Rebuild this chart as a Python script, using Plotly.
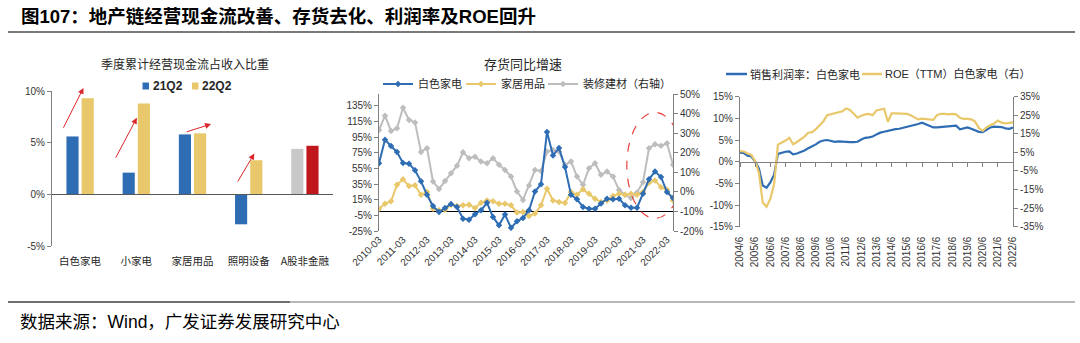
import plotly.graph_objects as go

W, H = 1080, 343
def px(x): return x / W
def py(y): return 1 - y / H

CJK = "Noto Sans CJK SC"
LAT = "Liberation Sans, Noto Sans CJK SC"
BLUE = "#2E6DB4"
YELLOW = "#E8C86A"
GREY_LINE = "#BDBDBD"
GREY_BAR = "#C8C8C8"
RED_BAR = "#C0171D"
TXT = "#333333"
AXC = "#808080"

# ---------------- Left chart: cash flow / revenue ----------------
bar_categories = ["白色家电", "小家电", "家居用品", "照明设备", "A股非金融"]
cash_21q2 = [5.6, 2.1, 5.8, -2.9, 4.4]
cash_22q2 = [9.3, 8.8, 5.9, 3.3, 4.7]
left_ticks = [-5, 0, 5, 10]
left_ticktext = ["-5%", "0%", "5%", "10%"]
# red arrows (tail x, tail y, head x, head y) in category-index / % units
arrows = [(-0.31, 6.3, 0.06, 10.3), (0.62, 3.4, 1.01, 7.4),
          (1.87, 6.0, 2.33, 6.8), (2.79, 1.1, 3.1, 3.95)]

# ---------------- Middle chart: inventory growth ----------------
quarters = [f"{y}-{m:02d}" for y in range(2010, 2023) for m in (3, 6, 9, 12)][:50]
inv_appliance = [61.7, 91.6, 83.5, 75.8, 61.8, 61.0, 52.5, 38.4, 21.3, 6.8,
                 -0.8, 4.3, 9.5, 5.7, -9.3, -10.6, -3.5, 1.5, 11.0, -7.0,
                 -17.8, -4.0, -21.0, -12.6, -8.4, 1.4, 25.4, 34.8, 101.5, 71.6,
                 81.0, 56.7, 21.4, 15.4, 5.7, 3.5, 3.5, 10.0, 16.3, 15.4,
                 16.3, 7.8, 4.8, 4.8, 22.7, 41.0, 51.0, 44.0, 24.8, 17.0]
inv_furnish = [3.5, 9.8, 12.9, 34.0, 41.0, 32.5, 33.3, 21.4, 24.8, 3.5,
               1.4, 2.2, 8.6, 6.9, 7.8, 8.6, 4.4, 11.2, 14.1, 12.9,
               9.9, 9.9, 7.8, -1.5, -0.7, -5.7, -2.8, 7.8, 29.0, 14.0,
               12.0, 10.7, 24.8, 21.4, 28.2, 22.7, 16.3, 12.0, 14.0, 19.6,
               22.7, 21.4, 22.7, 21.4, 24.8, 36.6, 39.6, 31.0, 27.7, 14.0]
inv_building = [31.6, 38.9, 31.1, 32.5, 43.0, 36.7, 35.5, 20.4, 22.3, 5.3,
                1.5, 5.6, 9.5, 13.4, 20.2, 17.2, 18.0, 15.5, 14.6, 17.2,
                13.8, 11.2, 7.8, 0.2, -4.1, 3.2, 11.2, 10.7, 20.6, 21.4,
                20.6, 13.8, 15.5, 7.8, 3.6, 12.1, 14.6, 8.7, 10.4, 7.8,
                1.0, -1.5, -3.2, -0.3, 4.9, 22.3, 24.3, 23.5, 24.8, 13.8]
mid_left_ticks = [-25, -5, 15, 35, 55, 75, 95, 115, 135]
mid_left_text = ["-25%", "-5%", "15%", "35%", "55%", "75%", "95%", "115%", "135%"]
mid_right_ticks = [-20, -10, 0, 10, 20, 30, 40, 50]
mid_right_text = ["-20%", "-10%", "0%", "10%", "20%", "30%", "40%", "50%"]

# ---------------- Right chart: margin & ROE ----------------
periods = [f"{y}/{m}" for y in range(2004, 2023) for m in (3, 6, 9, 12)][1:74]
net_margin = [2.1, 2.0, 1.4, 1.2, 0.0, -1.6, -5.5, -6.0, -4.8, -3.0,
              1.8, 2.1, 2.3, 2.4, 1.7, 1.9, 2.2, 2.6, 3.1, 3.5,
              4.0, 4.6, 4.9, 5.0, 4.8, 4.6, 4.7, 4.6, 4.6, 4.5,
              4.5, 4.6, 5.1, 5.5, 5.6, 5.8, 6.3, 6.7, 6.9, 7.1,
              7.4, 7.5, 7.6, 7.8, 8.0, 8.2, 8.4, 8.7, 9.0, 8.6,
              8.3, 7.9, 7.9, 8.0, 8.1, 8.2, 8.3, 8.3, 7.5, 7.7,
              7.9, 7.6, 7.3, 6.9, 6.8, 7.3, 7.9, 8.1, 8.1, 8.0,
              7.7, 7.6, 7.9]
roe_ttm = [5.7, 5.5, 4.4, 3.6, 0.3, -6.0, -22.0, -24.3, -20.0, -12.0,
           9.2, 10.2, 11.4, 12.9, 9.4, 10.6, 12.0, 13.5, 15.6, 15.9,
           17.5, 19.7, 21.8, 25.0, 25.6, 26.0, 26.6, 27.2, 28.7, 27.9,
           25.8, 23.7, 24.8, 25.5, 25.7, 25.0, 27.6, 28.2, 28.5, 21.5,
           26.0, 26.0, 26.0, 26.0, 25.8, 25.0, 24.0, 22.8, 23.2, 23.0,
           22.7, 22.6, 25.2, 25.8, 25.8, 25.5, 25.8, 25.5, 23.6, 23.1,
           23.1, 22.8, 21.6, 18.2, 16.6, 18.5, 19.6, 20.5, 22.2, 21.0,
           20.6, 20.7, 21.2]
r_left_ticks = [-15, -10, -5, 0, 5, 10, 15]
r_left_text = ["-15%", "-10%", "-5%", "0%", "5%", "10%", "15%"]
r_right_ticks = [-35, -25, -15, -5, 5, 15, 25, 35]
r_right_text = ["-35%", "-25%", "-15%", "-5%", "5%", "15%", "25%", "35%"]

fig = go.Figure()

# Left bars
fig.add_trace(go.Bar(x=bar_categories, y=cash_21q2, name="21Q2",
                     marker=dict(color=[BLUE] * 4 + [GREY_BAR], line=dict(width=0)),
                     xaxis="x", yaxis="y", showlegend=False))
fig.add_trace(go.Bar(x=bar_categories, y=cash_22q2, name="22Q2",
                     marker=dict(color=[YELLOW] * 4 + [RED_BAR], line=dict(width=0)),
                     xaxis="x", yaxis="y", showlegend=False))

# Middle lines
fig.add_trace(go.Scatter(x=quarters, y=inv_building, name="装修建材（右轴）",
                         mode="lines+markers", line=dict(color=GREY_LINE, width=2),
                         marker=dict(symbol="diamond", size=5, color=GREY_LINE),
                         xaxis="x2", yaxis="y2", legend="legend5"))
fig.add_trace(go.Scatter(x=quarters, y=inv_furnish, name="家居用品",
                         mode="lines+markers", line=dict(color=YELLOW, width=2),
                         marker=dict(symbol="diamond", size=5, color=YELLOW),
                         xaxis="x2", yaxis="y3", legend="legend4"))
fig.add_trace(go.Scatter(x=quarters, y=inv_appliance, name="白色家电",
                         mode="lines+markers", line=dict(color=BLUE, width=2),
                         marker=dict(symbol="diamond", size=5, color=BLUE),
                         xaxis="x2", yaxis="y3", legend="legend2"))

# Right lines
fig.add_trace(go.Scatter(x=periods, y=net_margin, name="销售利润率：白色家电",
                         mode="lines", line=dict(color=BLUE, width=2.2),
                         xaxis="x3", yaxis="y4", showlegend=False))
fig.add_trace(go.Scatter(x=periods, y=roe_ttm, name="ROE（TTM）白色家电（右）",
                         mode="lines", line=dict(color=YELLOW, width=2.2),
                         xaxis="x3", yaxis="y5", showlegend=False))

tickf = dict(family=LAT, size=10, color=TXT)
yax_common = dict(showline=True, linecolor=AXC, linewidth=1, ticks="outside",
                  ticklen=4, tickcolor=AXC, showgrid=False, zeroline=False,
                  tickfont=tickf, automargin=False)

def mid_legend(xpix):
    return dict(x=px(xpix), y=py(84), xanchor="left", yanchor="middle",
                orientation="h", bgcolor="rgba(0,0,0,0)", itemwidth=30,
                font=dict(family=CJK, size=11, color="#262626"))

fig.update_layout(
    width=W, height=H,
    margin=dict(l=0, r=0, t=0, b=0, autoexpand=False),
    plot_bgcolor="white", paper_bgcolor="white",
    barmode="group", bargap=0.46, bargroupgap=0.2,
    xaxis=dict(domain=[px(52), px(333)], anchor="free", position=py(194.3),
               type="category", range=[-0.5, 4.5], showline=True,
               linecolor="#595959", linewidth=1, ticks="", showgrid=False,
               zeroline=False, ticklabelstandoff=57, automargin=False,
               tickfont=dict(family=CJK, size=10.5, color="#262626")),
    yaxis=dict(domain=[py(246), py(91)], anchor="x", range=[-5, 10],
               tickvals=left_ticks, ticktext=left_ticktext, **yax_common),
    xaxis2=dict(domain=[px(379), px(673)], anchor="y2", type="category",
                range=[0, 49], tickvals=quarters[::4], tickangle=-45,
                ticks="", showline=False, showgrid=False, zeroline=False,
                tickfont=tickf, automargin=False),
    yaxis2=dict(domain=[py(231), py(94)], anchor="x2", side="right",
                range=[-20, 50], tickvals=mid_right_ticks, ticktext=mid_right_text,
                **yax_common),
    yaxis3=dict(overlaying="y2", anchor="x2", side="left", range=[-25, 150],
                tickvals=mid_left_ticks, ticktext=mid_left_text,
                **{**yax_common, "zeroline": True}, zerolinecolor="#000000",
                zerolinewidth=1.2),
    xaxis3=dict(domain=[px(740), px(1013)], anchor="free", position=py(161.7),
                type="category", range=[0, 72], tickvals=periods[::4],
                tickangle=-90, ticks="outside", ticklen=4, tickcolor=AXC,
                showline=True, linecolor=AXC, linewidth=1, showgrid=False,
                zeroline=False, ticklabelstandoff=66, tickfont=tickf,
                automargin=False),
    yaxis4=dict(domain=[py(226.7), py(96.7)], anchor="x3", range=[-15, 15],
                tickvals=r_left_ticks, ticktext=r_left_text, **yax_common),
    yaxis5=dict(overlaying="y4", anchor="x3", side="right", range=[-35, 35],
                tickvals=r_right_ticks, ticktext=r_right_text, **yax_common),
    legend2=mid_legend(378),
    legend4=mid_legend(461),
    legend5=mid_legend(543),
)

# chart titles and page texts
ann = [
    dict(text="图107：地产链经营现金流改善、存货去化、利润率及ROE回升",
         x=px(19), y=py(16), xanchor="left", yanchor="middle",
         font=dict(family=LAT, size=18.5, color="#000000", weight="bold")),
    dict(text="季度累计经营现金流占收入比重", x=px(185), y=py(64),
         xanchor="center", yanchor="middle",
         font=dict(family=CJK, size=12, color="#262626")),
    dict(text="存货同比增速", x=px(523), y=py(64), xanchor="center",
         yanchor="middle", font=dict(family=CJK, size=13, color="#262626")),
    dict(text="数据来源：Wind，广发证券发展研究中心", x=px(18), y=py(322),
         xanchor="left", yanchor="middle",
         font=dict(family=LAT, size=17.5, color="#000000")),
    # left chart legend texts
    dict(text="21Q2", x=px(151), y=py(86), xanchor="left", yanchor="middle",
         font=dict(family="Liberation Sans", size=12, color="#262626", weight="bold")),
    dict(text="22Q2", x=px(200), y=py(86), xanchor="left", yanchor="middle",
         font=dict(family="Liberation Sans", size=12, color="#262626", weight="bold")),
    # right chart legend texts
    dict(text="销售利润率：白色家电", x=px(748), y=py(74), xanchor="left",
         yanchor="middle", font=dict(family=CJK, size=11, color="#262626")),
    dict(text="ROE（TTM）白色家电（右）", x=px(883), y=py(74), xanchor="left",
         yanchor="middle", font=dict(family=LAT, size=11, color="#262626")),
]
for a in ann:
    a.update(xref="paper", yref="paper", showarrow=False)
for (tx, ty, hx, hy) in arrows:
    ann.append(dict(x=hx, y=hy, ax=tx, ay=ty, xref="x", yref="y", axref="x",
                    ayref="y", text="", showarrow=True, arrowhead=2,
                    arrowsize=1.2, arrowwidth=1, arrowcolor="#D9262C"))
fig.update_layout(annotations=ann)

fig.update_layout(shapes=[
    dict(type="line", xref="paper", yref="paper", x0=px(8), x1=px(1075),
         y0=py(32), y1=py(32), line=dict(color="#7a7a7a", width=2)),
    dict(type="line", xref="paper", yref="paper", x0=px(8), x1=px(290),
         y0=py(302), y1=py(302), line=dict(color="#404040", width=1.5)),
    dict(type="line", xref="paper", yref="paper", x0=px(290), x1=px(1075),
         y0=py(302), y1=py(302), line=dict(color="#a0a0a0", width=1.5)),
    dict(type="circle", xref="x2", yref="y3", x0=41.3, x1=50.7, y0=-8.8,
         y1=126.5, line=dict(color="#E8413C", width=1.2, dash="dash")),
    # left legend swatches
    dict(type="rect", xref="paper", yref="paper", x0=px(142.5), x1=px(149),
         y0=py(89.5), y1=py(82.5), fillcolor=BLUE, line=dict(width=0)),
    dict(type="rect", xref="paper", yref="paper", x0=px(192), x1=px(198.5),
         y0=py(89.5), y1=py(82.5), fillcolor=YELLOW, line=dict(width=0)),
    # right legend line samples
    dict(type="line", xref="paper", yref="paper", x0=px(726), x1=px(747),
         y0=py(74), y1=py(74), line=dict(color=BLUE, width=2.5)),
    dict(type="line", xref="paper", yref="paper", x0=px(862), x1=px(882),
         y0=py(74), y1=py(74), line=dict(color=YELLOW, width=2.5)),
])

fig.write_html("out.html")
